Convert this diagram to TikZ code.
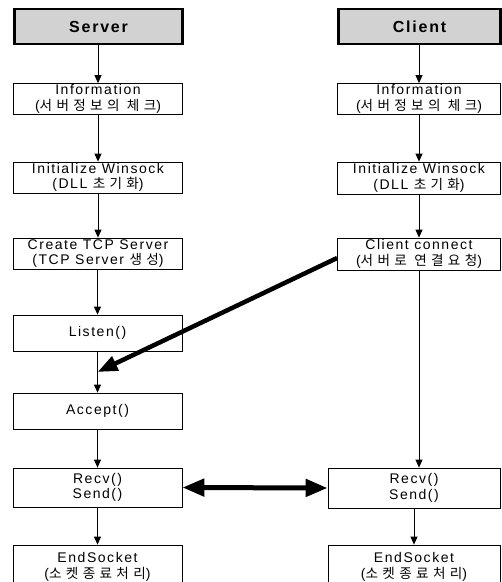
\documentclass[tikz,border=0pt]{standalone}
\usepackage{fontspec}
\setmainfont{Liberation Sans}[LetterSpace=11]
\newfontfamily\kr{Noto Sans CJK KR}[LetterSpace=32,Scale=0.97]
\usetikzlibrary{arrows.meta,calc}

\begin{document}
\begin{tikzpicture}[x=1pt,y=-1pt,
  box/.style={draw, line width=0.8pt, inner sep=0pt, align=center,
    font=\fontsize{14}{15.5}\selectfont},
  header/.style={draw, line width=2.6pt, fill=gray!35, inner sep=0pt,
    font=\fontsize{16}{18}\selectfont\bfseries},
  flow/.style={line width=0.8pt, -{Triangle[length=8pt,width=7pt]}},
  heavy/.style={line width=4.5pt, -{Triangle[length=20pt,width=15pt]}},
  duplex/.style={line width=5pt, {Triangle[length=22pt,width=17pt]}-{Triangle[length=22pt,width=17pt]}}
]
\useasboundingbox (0,0) rectangle (502,582);
\clip (0,0) rectangle (502,582);

% server column
\node[header, minimum width=168pt, minimum height=35pt] (hs) at (98.5,26.5) {Server};
\node[box, minimum width=169pt, minimum height=31pt] (si) at (98,99)
  {Information\\({\kr 서버정보의 체크})};
\node[box, minimum width=169pt, minimum height=31pt] (sw) at (98,177.5)
  {Initialize Winsock\\(DLL {\kr 초기화})};
\node[box, minimum width=169pt, minimum height=31pt] (sc) at (98,253.5)
  {Create TCP Server\\(TCP Server {\kr 생성})};
\node[box, minimum width=169pt, minimum height=36pt] (sl) at (97.5,333) {Listen()};
\node[box, minimum width=169pt, minimum height=36pt] (sa) at (97.5,411) {Accept()};
\node[box, minimum width=169pt, minimum height=39pt] (sr) at (97.5,487.5) {Recv()\\Send()};
\node[box, minimum width=169pt, minimum height=44pt] (se) at (97.5,567)
  {EndSocket\\({\kr 소켓종료처리})};

% client column
\node[header, minimum width=162pt, minimum height=35pt] (ch) at (419.5,26.5) {Client};
\node[box, minimum width=163pt, minimum height=31pt] (ci) at (419,99)
  {Information\\({\kr 서버정보의 체크})};
\node[box, minimum width=163pt, minimum height=32pt] (cw) at (419,178)
  {Initialize Winsock\\(DLL {\kr 초기화})};
\node[box, minimum width=163pt, minimum height=32pt] (cc) at (419,254)
  {Client connect\\({\kr 서버로 연결요청})};
\node[box, minimum width=172pt, minimum height=40pt] (cr) at (414,488) {Recv()\\Send()};
\node[box, minimum width=172pt, minimum height=44pt] (ce) at (414,567)
  {EndSocket\\({\kr 소켓종료처리})};

% server flow
\draw[flow] (hs.south -| si.north) -- (si.north);
\draw[flow] (si) -- (sw);
\draw[flow] (sw) -- (sc);
\draw[flow] (sc.south -| sl.north) -- (sl.north);
\draw[flow] (sl) -- (sa);
\draw[flow] (sa) -- (sr);
\draw[flow] (sr) -- (se);

% client flow
\draw[flow] (ch.south -| ci.north) -- (ci.north);
\draw[flow] (ci) -- (cw);
\draw[flow] (cw) -- (cc);
\draw[flow] (cc.south) -- (cc.south |- cr.north);
\draw[flow] (cr) -- (ce);

% connection request and data exchange
\coordinate (req) at ([yshift=-4pt]cc.west);
\coordinate (hit) at ($(sl.south)!0.5!(sa.north)$);
\draw[heavy] (req) -- (hit);
\draw[duplex] (sr.east) -- (cr.west);
\end{tikzpicture}
\end{document}
